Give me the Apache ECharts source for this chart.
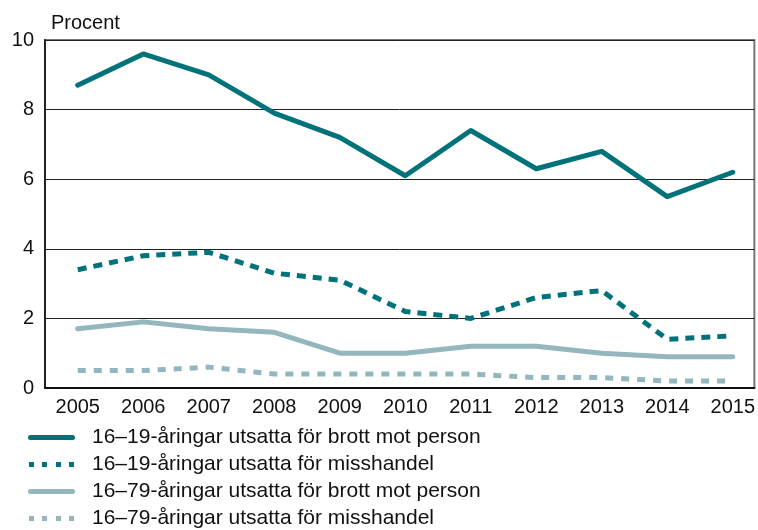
<!DOCTYPE html>
<html>
<head>
<meta charset="utf-8">
<script src="https://cdn.jsdelivr.net/npm/echarts@6/dist/echarts.min.js"></script>
<style>
  html, body { margin: 0; padding: 0; background: #fff; }
  #chart { width: 758px; height: 530px; }
</style>
</head>
<body>
<div id="chart"></div>
<script>
// år och andelar (procent)
const years = [2005, 2006, 2007, 2008, 2009, 2010, 2011, 2012, 2013, 2014, 2015];
const brott1619 = [8.7, 9.6, 9.0, 7.9, 7.2, 6.1, 7.4, 6.3, 6.8, 5.5, 6.2];
const misshandel1619 = [3.4, 3.8, 3.9, 3.3, 3.1, 2.2, 2.0, 2.6, 2.8, 1.4, 1.5];
const brott1679 = [1.7, 1.9, 1.7, 1.6, 1.0, 1.0, 1.2, 1.2, 1.0, 0.9, 0.9];
const misshandel1679 = [0.5, 0.5, 0.6, 0.4, 0.4, 0.4, 0.4, 0.3, 0.3, 0.2, 0.2];
const yTicks = [0, 2, 4, 6, 8, 10];

const dark = '#00737a';
const light = '#94b6bd';
const font = 'Liberation Sans, Arial, Helvetica, sans-serif';

// legend icons: rounded bar and four short dashes
const solidIcon = 'path://M2.5,0H44.5A2.5,2.5,0,0,1,44.5,5H2.5A2.5,2.5,0,0,1,2.5,0Z';
const dashIcon = 'path://M1,0h5v5h-5zM14,0h5v5h-5zM28,0h5v5h-5zM41,0h5v5h-5zM0,0h0.01v0.01h-0.01zM46.99,0h0.01v0.01h-0.01z';

function pairs (vals) {
  return years.map((y, i) => [y, vals[i]]);
}

function makeSeries (name, vals, color, dash) {
  return {
    name: name,
    type: 'line',
    data: pairs(vals),
    symbol: 'none',
    smooth: false,
    lineStyle: {
      color: color,
      width: 5,
      type: dash || 'solid',
      cap: dash ? 'butt' : 'round',
      join: 'round'
    },
    itemStyle: { color: color }
  };
}

let chart = echarts.init(document.getElementById('chart'));
chart.setOption({
  animation: false,
  backgroundColor: '#fff',
  title: {
    text: 'Procent',
    left: 46,
    top: 8,
    textStyle: { fontFamily: font, fontSize: 20, fontWeight: 'normal', color: '#111' }
  },
  grid: {
    left: 45, right: 3, top: 40, bottom: 142,
    show: true,
    borderColor: '#777',
    borderWidth: 2
  },
  legend: {
    orient: 'vertical',
    left: 28,
    top: 427,
    padding: 0,
    itemWidth: 47,
    itemHeight: 5,
    itemGap: 6,
    selectedMode: false,
    textStyle: { fontFamily: font, fontSize: 21, lineHeight: 21, color: '#111', padding: [0, 0, 0, 12] },
    data: [
      { name: '16–19-åringar utsatta för brott mot person', icon: solidIcon },
      { name: '16–19-åringar utsatta för misshandel', icon: dashIcon },
      { name: '16–79-åringar utsatta för brott mot person', icon: solidIcon },
      { name: '16–79-åringar utsatta för misshandel', icon: dashIcon }
    ]
  },
  xAxis: {
    type: 'value',
    min: 2004.5,
    max: 2015.33,
    interval: 0.5,
    axisLine: { show: true, lineStyle: { color: '#111', width: 2 } },
    axisTick: { show: false },
    splitLine: { show: false },
    axisLabel: {
      showMinLabel: false,
      showMaxLabel: false,
      margin: 9,
      fontFamily: font,
      fontSize: 20,
      color: '#111',
      formatter: v => (Number.isInteger(v) ? String(v) : '')
    }
  },
  yAxis: {
    type: 'value',
    min: yTicks[0],
    max: yTicks[yTicks.length - 1],
    interval: 2,
    axisLine: { show: true, lineStyle: { color: '#222', width: 2 } },
    axisTick: { show: false },
    splitLine: { show: true, lineStyle: { color: '#222', width: 1 } },
    axisLabel: { margin: 11, fontFamily: font, fontSize: 20, color: '#111' }
  },
  series: [
    makeSeries('16–19-åringar utsatta för brott mot person', brott1619, dark, null),
    makeSeries('16–19-åringar utsatta för misshandel', misshandel1619, dark, [9, 7]),
    makeSeries('16–79-åringar utsatta för brott mot person', brott1679, light, null),
    makeSeries('16–79-åringar utsatta för misshandel', misshandel1679, light, [8, 8])
  ]
});
</script>
</body>
</html>
